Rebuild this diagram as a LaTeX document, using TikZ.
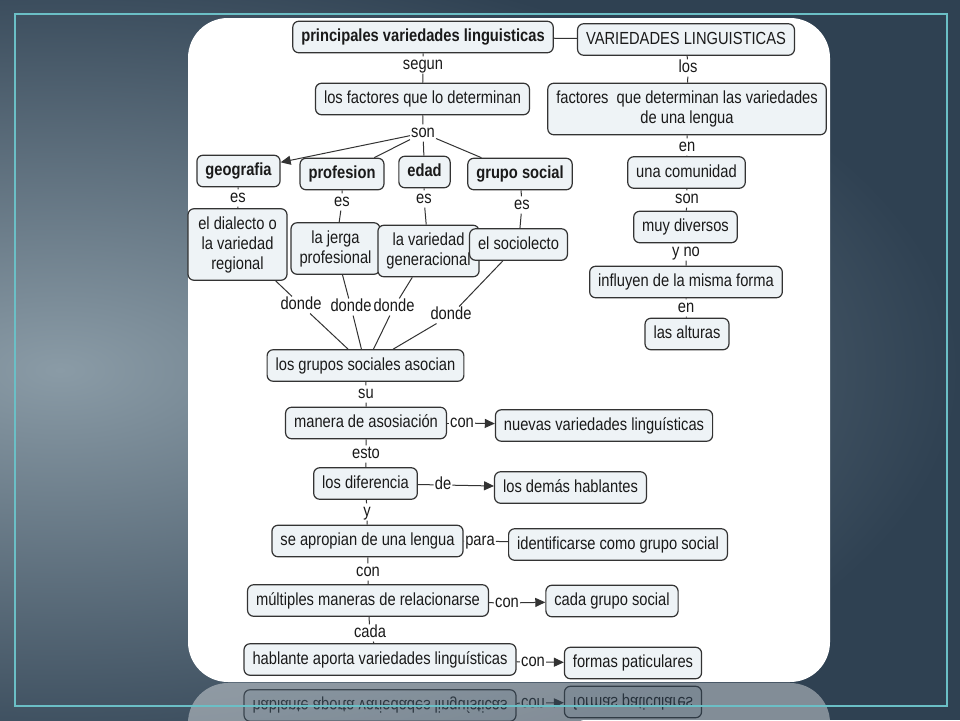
\documentclass[tikz,border=0pt]{standalone}
\usepackage{fontspec}
\setmainfont[FakeStretch=0.84]{Liberation Sans}
\usetikzlibrary{positioning,arrows.meta}

\definecolor{slidedark}{HTML}{2F4152}
\definecolor{slidelight}{HTML}{8A9BA6}
\definecolor{frameline}{HTML}{6BBFC6}
\definecolor{boxfill}{HTML}{EEF3F6}
\definecolor{boxline}{HTML}{333333}
\definecolor{inkgrey}{HTML}{1A1A1A}

\newcommand{\mapfont}{\fontsize{17.5}{20}\selectfont}
\newcommand{\lstrut}{\rule[-3.7pt]{0pt}{16.5pt}}

\tikzset{
  concept/.style={draw=boxline, fill=boxfill, line width=1.2pt, rounded corners=6pt,
    inner xsep=8.5pt, inner ysep=7.5pt, text height=12.8pt, text depth=3.7pt,
    font=\mapfont, text=inkgrey},
  bconcept/.style={concept, font=\mapfont\bfseries},
  mconcept/.style={draw=boxline, fill=boxfill, line width=1.2pt, rounded corners=6pt,
    inner xsep=8.5pt, inner ysep=7.5pt, align=center, font=\mapfont, text=inkgrey},
  linkword/.style={fill=white, inner sep=1pt, text height=11.5pt, text depth=3.2pt,
    font=\mapfont, text=inkgrey},
  link/.style={draw=boxline, line width=1pt},
  arrowlink/.style={link, -{Triangle[length=10pt,width=9pt]}},
}

% last row of the map, drawn twice (map and reflection)
\newcommand{\lastrow}[1]{%
  \node[concept] (habl#1) at (380,659.5) {hablante aporta variedades linguísticas};
  \node[linkword] (conf#1) at (533,662) {con};
  \node[concept] (fpart#1) at (633,663) {formas paticulares};
  \draw[link] (habl#1) -- (conf#1);
  \draw[arrowlink] (conf#1) -- (fpart#1);
}

\begin{document}
\begin{tikzpicture}[x=1pt, y=-1pt]
% slide background
\fill[slidedark] (0,0) rectangle (960,720);
\begin{scope}
  \clip (0,0) rectangle (960,720);
  \shade[inner color=slidelight, outer color=slidedark] (60,370) ellipse [x radius=900pt, y radius=430pt];
\end{scope}
% white sheet
\fill[white, rounded corners=40pt] (188,18) rectangle (830,682);

% top of the map
\node[bconcept] (pvl) at (423,37) {principales variedades linguisticas};
\node[concept] (vl) at (686,39.5) {VARIEDADES LINGUISTICAS};
\node[linkword] (segun) at (423,65) {segun};
\node[concept] (fdet) at (422.5,99) {los factores que lo determinan};
\node[linkword] (son) at (423,133) {son};

% the four factors
\node[bconcept] (geo) at (238.5,171) {geografia};
\node[bconcept] (prof) at (342,174) {profesion};
\node[bconcept] (edad) at (424.5,172) {edad};
\node[bconcept] (gsoc) at (520,174) {grupo social};
\node[linkword] (esa) at (238,198) {es};
\node[linkword] (esb) at (342,202) {es};
\node[linkword] (esc) at (424,199) {es};
\node[linkword] (esd) at (522,205) {es};
\node[mconcept, minimum width=99pt] (dial) at (237.5,244.5) {\lstrut el dialecto o\\la variedad\\regional\lstrut};
\node[mconcept] (jerga) at (335.5,248.5) {\lstrut la jerga\\profesional\lstrut};
\node[mconcept] (vgen) at (428.5,251) {\lstrut la variedad\\generacional\lstrut};
\node[concept] (socio) at (518.5,244.5) {el sociolecto};
\node[linkword] (dondea) at (301,305) {donde};
\node[linkword] (dondeb) at (351,307) {donde};
\node[linkword] (dondec) at (394,307) {donde};
\node[linkword] (donded) at (451,315) {donde};

% central column
\node[concept] (gsa) at (365.5,365.5) {los grupos sociales asocian};
\node[linkword] (su) at (366,394) {su};
\node[concept] (masoc) at (366,423) {manera de asosiación};
\node[linkword] (cona) at (462,423) {con};
\node[concept] (nvl) at (604,425.5) {nuevas variedades linguísticas};
\node[linkword] (esto) at (366,454) {esto};
\node[concept] (dif) at (365.5,483.5) {los diferencia};
\node[linkword] (de) at (443,485) {de};
\node[concept] (dhab) at (570.5,487.5) {los demás hablantes};
\node[linkword] (y) at (367,512) {y};
\node[concept] (apro) at (367.5,541) {se apropian de una lengua};
\node[linkword] (para) at (480,541) {para};
\node[concept] (ident) at (618,544.5) {identificarse como grupo social};
\node[linkword] (conb) at (368,572) {con};
\node[concept] (mult) at (368,600.5) {múltiples maneras de relacionarse};
\node[linkword] (conc) at (507,603) {con};
\node[concept] (cgs) at (612,601) {cada grupo social};
\node[linkword] (cada) at (370,633) {cada};
\lastrow{}

% right column
\node[linkword] (los) at (688,68) {los};
\node[mconcept] (fvar) at (687,109) {\lstrut factores~ que determinan las variedades\\de una lengua\lstrut};
\node[linkword] (ena) at (687,147) {en};
\node[concept] (ucom) at (686.5,172.5) {una comunidad};
\node[linkword] (sonb) at (687,199) {son};
\node[concept] (mdiv) at (685.5,227) {muy diversos};
\node[linkword] (yno) at (686,252) {y no};
\node[concept] (infl) at (686,282) {influyen de la misma forma};
\node[linkword] (enb) at (686,308) {en};
\node[concept] (alt) at (687,334) {las alturas};

% links
\draw[link] (pvl) -- (vl);
\draw[link] (pvl) -- (segun) -- (fdet);
\draw[link] (fdet) -- (son);
\draw[arrowlink] (son) -- (geo);
\draw[link] (son) -- (prof);
\draw[link] (son) -- (edad);
\draw[link] (son) -- (gsoc);
\draw[link] (geo) -- (esa) -- (dial);
\draw[link] (prof) -- (esb) -- (jerga);
\draw[link] (edad) -- (esc) -- (vgen);
\draw[link] (gsoc) -- (esd) -- (socio);
\draw[link] (dial) -- (dondea) -- (gsa);
\draw[link] (jerga) -- (dondeb) -- (gsa);
\draw[link] (vgen) -- (dondec) -- (gsa);
\draw[link] (socio) -- (donded) -- (gsa);
\draw[link] (gsa) -- (su) -- (masoc) -- (esto) -- (dif) -- (y) -- (apro)
  -- (conb) -- (mult) -- (cada) -- (habl);
\draw[link] (masoc) -- (cona);
\draw[arrowlink] (cona) -- (nvl);
\draw[link] (dif) -- (de);
\draw[arrowlink] (de) -- (dhab);
\draw[link] (apro) -- (para) -- (ident);
\draw[link] (mult) -- (conc);
\draw[arrowlink] (conc) -- (cgs);
\draw[link] (vl) -- (los) -- (fvar) -- (ena) -- (ucom) -- (sonb) -- (mdiv)
  -- (yno) -- (infl) -- (enb) -- (alt);

% reflection under the sheet
\begin{scope}
  \clip (0,683) rectangle (960,720);
  \begin{scope}[transparency group, opacity=0.4]
    \begin{scope}[shift={(0,1365)}, yscale=-1, transform shape]
      \fill[white, rounded corners=40pt] (188,18) rectangle (830,682);
      \lastrow{r}
    \end{scope}
  \end{scope}
\end{scope}

% frame line
\draw[frameline, line width=1.5pt] (15,14) rectangle (947,706);
\end{tikzpicture}
\end{document}
